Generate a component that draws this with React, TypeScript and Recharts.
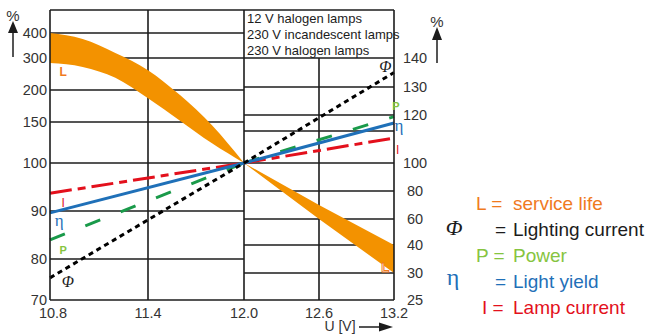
import React from "react";
import {
  Area,
  ComposedChart,
  Line,
  ReferenceDot,
  ReferenceLine,
  XAxis,
  YAxis
} from "recharts";

// ticks
const uTicks = [10.8, 11.4, 12.0, 12.6, 13.2];
const leftTicks = [70, 80, 90, 100, 150, 200, 300, 400];
const rightTicks = [25, 30, 40, 60, 80, 100, 110, 120, 130, 140];

// the axes are not linear: each stop value and its distance from the axis start
const uStops = [10.8, 11.4, 12.0, 12.6, 13.2];
const uSteps = [0, 98, 194, 269, 344];
const leftStops = [70, 80, 90, 100, 150, 200, 300, 400, 492];
const leftSteps = [0, 41, 89, 137, 178, 210, 242, 267, 290];
const rightStops = [25, 30, 40, 60, 80, 100, 110, 120, 130, 140, 157];
const rightSteps = [0, 27, 55, 81, 109, 137, 169, 185, 213, 242, 290];

// service life band, below rated voltage (left axis)
const uLeft = [10.8, 11.0, 11.2, 11.4, 11.6, 11.8, 12.0];
const lifeHighLeft = [400, 376, 320, 262, 192, 146, 100];
const lifeLowLeft = [284, 272, 238, 187, 152, 124, 100];
// service life band, above rated voltage (right axis)
const uRight = [12.0, 12.6, 13.2];
const lifeHighRight = [100, 70, 40];
const lifeLowRight = [100, 60, 30];

// straight lines: values at 10.8 / 12.0 (left axis) and 12.0 / 13.2 (right axis)
const uLineLeft = [10.8, 12.0];
const uLineRight = [12.0, 13.2];
const fluxLeft = [75.4, 100];
const fluxRight = [100, 135];
const powerLeft = [84, 100];
const powerRight = [100, 119];
const yieldLeft = [89.6, 100];
const yieldRight = [100, 115];
const currentLeft = [93.7, 100];
const currentRight = [100, 107.8];

const boxLines = ["12 V halogen lamps", "230 V incandescent lamps", "230 V halogen lamps"];

const ORANGE = "#f39200";
const ORANGE_TXT = "#f07a1e";
const GREEN = "#1a9a4a";
const GREEN_TXT = "#86c440";
const BLUE = "#1f70b8";
const RED = "#e3101c";
const INK = "#1c1c1c";
const SANS = "'Liberation Sans', Arial, sans-serif";
const SERIF = "'Liberation Serif', 'DejaVu Serif', serif";

function stepScale(stops: number[], steps: number[], dom0?: number[], rng0?: number[]): any {
  let dom = dom0 ? dom0.slice() : [stops[0], stops[stops.length - 1]];
  let rng = rng0 ? rng0.slice() : [0, 1];
  const total = steps[steps.length - 1];
  const s: any = (v: number) => {
    let i = 0;
    while (i < stops.length - 2 && v > stops[i + 1]) i++;
    const t = (v - stops[i]) / (stops[i + 1] - stops[i]);
    const f = (steps[i] + t * (steps[i + 1] - steps[i])) / total;
    return rng[0] + f * (rng[1] - rng[0]);
  };
  s.domain = (d?: number[]) => {
    if (d === undefined) return dom;
    dom = d.slice();
    return s;
  };
  s.range = (r?: number[]) => {
    if (r === undefined) return rng;
    rng = r.slice();
    return s;
  };
  s.copy = () => stepScale(stops, steps, dom, rng);
  s.ticks = () => stops.slice();
  s.tickFormat = () => (v: number) => String(v);
  s.clamp = () => s;
  s.nice = () => s;
  s.unknown = () => s;
  return s;
}

const uScale = stepScale(uStops, uSteps);
const leftScale = stepScale(leftStops, leftSteps);
const rightScale = stepScale(rightStops, rightSteps);

function buildTable() {
  const rows = new Map<number, any>();
  const put = (us: number[], key: string, vals: any[]) =>
    us.forEach((u, i) => {
      const r = rows.get(u) ?? { u };
      r[key] = vals[i];
      rows.set(u, r);
    });
  put(uLeft, "lifeL", uLeft.map((_, i) => [lifeLowLeft[i], lifeHighLeft[i]]));
  put(uRight, "lifeR", uRight.map((_, i) => [lifeLowRight[i], lifeHighRight[i]]));
  put(uLineLeft, "fluxL", fluxLeft);
  put(uLineRight, "fluxR", fluxRight);
  put(uLineLeft, "powerL", powerLeft);
  put(uLineRight, "powerR", powerRight);
  put(uLineLeft, "yieldL", yieldLeft);
  put(uLineRight, "yieldR", yieldRight);
  put(uLineLeft, "currentL", currentLeft);
  put(uLineRight, "currentR", currentRight);
  return [...rows.values()].sort((a, b) => a.u - b.u);
}

const data = buildTable();

const grid = { stroke: INK, strokeWidth: 1.6 };
const gridLine: any = { ...grid, zIndex: -50 };

const tag = (text: string, color: string, size: number, font = SANS, extra: any = {}) =>
  (p: any) => (
    <text
      x={p.cx}
      y={p.cy}
      fill={color}
      fontSize={size}
      fontFamily={font}
      textAnchor="middle"
      dominantBaseline="central"
      {...extra}
    >
      {text}
    </text>
  );

const seriesTags = [
  { x: 10.88, y: 256, axis: "left", el: tag("L", ORANGE_TXT, 12, SANS, { fontWeight: 700 }) },
  { x: 13.13, y: 31.8, axis: "right", el: tag("L", "#fff", 13, SANS, { fontWeight: 700, stroke: ORANGE_TXT, strokeWidth: 1 }) },
  { x: 10.91, y: 74.6, axis: "left", el: tag("Φ", INK, 16, SERIF, { fontStyle: "italic" }) },
  { x: 13.13, y: 136.9, axis: "right", el: tag("Φ", INK, 16, SERIF, { fontStyle: "italic" }) },
  { x: 10.88, y: 81.9, axis: "left", el: tag("P", GREEN_TXT, 11, SANS, { fontWeight: 700 }) },
  { x: 13.216, y: 123.2, axis: "right", el: tag("P", GREEN_TXT, 11, SANS, { fontWeight: 700 }) },
  { x: 10.856, y: 88.1, axis: "left", el: tag("η", BLUE, 17, SERIF) },
  { x: 13.24, y: 113.75, axis: "right", el: tag("η", BLUE, 17, SERIF) },
  { x: 10.88, y: 91.7, axis: "left", el: tag("I", RED, 12, SANS) },
  { x: 13.23, y: 104, axis: "right", el: tag("I", RED, 12, SANS) }
];

const legendRows = [
  { sym: "L =", symX: 476, text: "service life", color: ORANGE_TXT, y: 203 },
  { sym: "=", symX: 495, text: "Lighting current", color: INK, y: 229 },
  { sym: "P =", symX: 476, text: "Power", color: GREEN_TXT, y: 255 },
  { sym: "=", symX: 495, text: "Light yield", color: BLUE, y: 281 },
  { sym: "I =", symX: 482, text: "Lamp current", color: RED, y: 307 }
];

function LeftTick({ x, y, payload }: any) {
  return (
    <text x={x - 3} y={y} textAnchor="end" dominantBaseline="central" fontSize={14.5} fontFamily={SANS} fill="#333">
      {payload.value}
    </text>
  );
}

function RightTick({ x, y, payload }: any) {
  return (
    <text x={x + 21} y={y} textAnchor="middle" dominantBaseline="central" fontSize={14.5} fontFamily={SANS} fill="#333">
      {payload.value}
    </text>
  );
}

function BottomTick({ x, y, payload }: any) {
  return (
    <text
      x={x + (payload.value === 10.8 ? 3 : 0)}
      y={y + 13}
      textAnchor="middle"
      dominantBaseline="central"
      fontSize={14.5}
      fontFamily={SANS}
      fill="#333"
    >
      {payload.value.toFixed(1)}
    </text>
  );
}

function Overlay() {
  return (
    <svg width={651} height={334} style={{ position: "absolute", left: 0, top: 0, pointerEvents: "none" }}>
      {/* left % arrow */}
      <text x={13} y={15} textAnchor="middle" dominantBaseline="central" fontSize={15} fontFamily={SANS} fill="#333">%</text>
      <line x1={13} y1={30} x2={13} y2={57} stroke={INK} strokeWidth={1.5} />
      <polygon points="13,21 8,33 18,33" fill={INK} />
      {/* right % arrow */}
      <text x={437} y={21} textAnchor="middle" dominantBaseline="central" fontSize={15} fontFamily={SANS} fill="#333">%</text>
      <line x1={437} y1={36} x2={437} y2={63} stroke={INK} strokeWidth={1.5} />
      <polygon points="437,27 432,40 442,40" fill={INK} />
      {/* x title */}
      <text x={340} y={326} textAnchor="middle" dominantBaseline="central" fontSize={14} fontFamily={SANS} fill="#333">U [V]</text>
      <line x1={359} y1={327} x2={380} y2={327} stroke={INK} strokeWidth={1.5} />
      <polygon points="393,327 379,322.5 379,331.5" fill={INK} />
      {/* lamp types */}
      {boxLines.map((t, i) => (
        <text key={t} x={247} y={18.5 + i * 16} dominantBaseline="central" fontSize={13} fontFamily={SANS} fill={INK}>
          {t}
        </text>
      ))}
      {/* legend */}
      <text x={454} y={227} textAnchor="middle" dominantBaseline="central" fontSize={22} fontFamily={SERIF} fontStyle="italic" fill={INK}>Φ</text>
      <text x={453} y={277} textAnchor="middle" dominantBaseline="central" fontSize={24} fontFamily={SERIF} fill={BLUE}>η</text>
      {legendRows.map((r) => (
        <g key={r.text} fontSize={19} fontFamily={SANS} fill={r.color}>
          <text x={r.symX} y={r.y} dominantBaseline="central">{r.sym}</text>
          <text x={513} y={r.y} dominantBaseline="central">{r.text}</text>
        </g>
      ))}
    </svg>
  );
}

export default function App() {
  return (
    <div style={{ position: "absolute", left: 0, top: 0, width: 651, height: 334, background: "#fff" }}>
      <ComposedChart width={651} height={334} data={data} margin={{ top: 10, right: 217, bottom: 0, left: 0 }}>
        <XAxis
          dataKey="u"
          type="number"
          scale={uScale}
          domain={[10.8, 13.2]}
          ticks={uTicks}
          tickLine={false}
          tickSize={0}
          tickMargin={0}
          height={34}
          axisLine={grid}
          tick={<BottomTick />}
        />
        <YAxis
          yAxisId="left"
          type="number"
          scale={leftScale}
          domain={[70, 492]}
          ticks={leftTicks}
          tickLine={false}
          tickSize={0}
          tickMargin={0}
          width={50}
          axisLine={grid}
          tick={<LeftTick />}
          allowDataOverflow
        />
        <YAxis
          yAxisId="right"
          orientation="right"
          type="number"
          scale={rightScale}
          domain={[25, 157]}
          ticks={rightTicks}
          tickLine={false}
          tickSize={0}
          tickMargin={0}
          width={40}
          axisLine={grid}
          tick={<RightTick />}
          allowDataOverflow
        />

        {/* frame top and vertical grid */}
        <ReferenceLine yAxisId="left" y={492} {...gridLine} />
        <ReferenceLine yAxisId="left" x={11.4} {...gridLine} />
        <ReferenceLine yAxisId="left" x={12.0} {...gridLine} />
        <ReferenceLine
          yAxisId="right"
          segment={[{ x: 12.6, y: 25 }, { x: 12.6, y: 140 }]}
          {...gridLine}
        />
        {/* horizontal grid: left half on the left axis, right half on the right axis */}
        {leftTicks.slice(1).map((v) => (
          <ReferenceLine key={"l" + v} yAxisId="left" segment={[{ x: 10.8, y: v }, { x: 12.0, y: v }]} {...gridLine} />
        ))}
        {rightTicks.slice(1).map((v) => (
          <ReferenceLine key={"r" + v} yAxisId="right" segment={[{ x: 12.0, y: v }, { x: 13.2, y: v }]} {...gridLine} />
        ))}

        <Area yAxisId="left" dataKey="lifeL" type="monotone" fill={ORANGE} fillOpacity={1} stroke="none" isAnimationActive={false} />
        <Area yAxisId="right" dataKey="lifeR" type="linear" fill={ORANGE} fillOpacity={1} stroke="none" isAnimationActive={false} />

        <Line yAxisId="left" dataKey="currentL" stroke={RED} strokeWidth={3} strokeDasharray="22 6 8 6" dot={false} connectNulls isAnimationActive={false} />
        <Line yAxisId="right" dataKey="currentR" stroke={RED} strokeWidth={3} strokeDasharray="22 6 8 6" dot={false} connectNulls isAnimationActive={false} />
        <Line yAxisId="left" dataKey="powerL" stroke={GREEN} strokeWidth={3} strokeDasharray="16 22" dot={false} connectNulls isAnimationActive={false} />
        <Line yAxisId="right" dataKey="powerR" stroke={GREEN} strokeWidth={3} strokeDasharray="16 22" dot={false} connectNulls isAnimationActive={false} />
        <Line yAxisId="left" dataKey="yieldL" stroke={BLUE} strokeWidth={3} dot={false} connectNulls isAnimationActive={false} />
        <Line yAxisId="right" dataKey="yieldR" stroke={BLUE} strokeWidth={3} dot={false} connectNulls isAnimationActive={false} />
        <Line yAxisId="left" dataKey="fluxL" stroke="#000" strokeWidth={3} strokeDasharray="5 4" dot={false} connectNulls isAnimationActive={false} />
        <Line yAxisId="right" dataKey="fluxR" stroke="#000" strokeWidth={3} strokeDasharray="5 4" dot={false} connectNulls isAnimationActive={false} />

        {seriesTags.map((t, i) => (
          <ReferenceDot key={i} yAxisId={t.axis} x={t.x} y={t.y} r={0} ifOverflow="visible" shape={t.el} />
        ))}
      </ComposedChart>
      <Overlay />
    </div>
  );
}
